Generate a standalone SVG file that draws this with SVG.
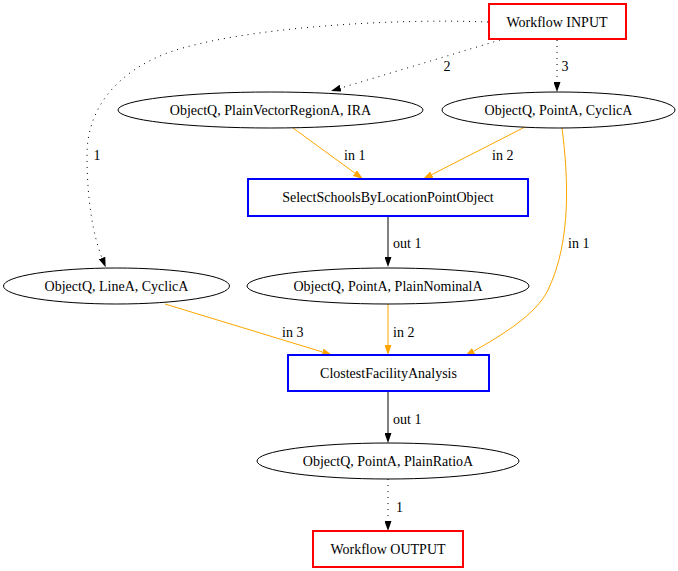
<svg xmlns="http://www.w3.org/2000/svg" width="678" height="571" viewBox="0 0 678 571">
  <style>
    text { font-family: "Liberation Serif", "Times New Roman", serif; font-size: 14px; fill: #000; }
    .lbl { text-anchor: middle; }
    .ell { fill: none; stroke: #000; stroke-width: 1; }
    .io { fill: none; stroke: #ff0000; stroke-width: 2; }
    .op { fill: none; stroke: #0000ff; stroke-width: 2; }
    .e { fill: none; stroke: #000; stroke-width: 1; }
    .dot { stroke-dasharray: 1,5; }
    .or { stroke: #ffa500; }
  </style>
  <defs>
    <marker id="ah" viewBox="0 0 10 7" refX="0" refY="3.5" markerWidth="10" markerHeight="7" markerUnits="userSpaceOnUse" orient="auto">
      <path d="M0,0 L10,3.5 L0,7 Z" fill="#000" stroke="none"/>
    </marker>
    <marker id="aho" viewBox="0 0 10 7" refX="0" refY="3.5" markerWidth="10" markerHeight="7" markerUnits="userSpaceOnUse" orient="auto">
      <path d="M0,0 L10,3.5 L0,7 Z" fill="#ffa500" stroke="none"/>
    </marker>
  </defs>

  <!-- edges -->
  <g id="edges">
    <path class="e dot" d="M557,40 L557,82" marker-end="url(#ah)"/>
    <text x="565" y="71" class="lbl">3</text>
    <path class="e dot" d="M500,40 L340.6,88.1" marker-end="url(#ah)"/>
    <text x="447" y="71" class="lbl">2</text>
    <path class="e dot" d="M488,22 C390,18 240,28 170,52 C115,72 87,110 87,155 C87,200 93,235 102,258" marker-end="url(#ah)"/>
    <text x="97" y="160" class="lbl">1</text>

    <path class="e or" d="M293,128 L354.9,173.1" marker-end="url(#aho)"/>
    <text x="344" y="160">in 1</text>
    <path class="e or" d="M525,127 L431.9,174.5" marker-end="url(#aho)"/>
    <text x="492" y="160">in 2</text>

    <path class="e" d="M388,216 L388,257" marker-end="url(#ah)"/>
    <text x="393" y="248">out 1</text>

    <path class="e or" d="M562,128 C568,175 572,240 548,290 C536,315 499.8,336.4 473.7,351.1" marker-end="url(#aho)"/>
    <text x="568" y="248">in 1</text>

    <path class="e or" d="M165,304 L322.5,352" marker-end="url(#aho)"/>
    <text x="282" y="337">in 3</text>
    <path class="e or" d="M388,304 L388,345" marker-end="url(#aho)"/>
    <text x="393" y="337">in 2</text>

    <path class="e" d="M388,391 L388,433" marker-end="url(#ah)"/>
    <text x="393" y="424">out 1</text>

    <path class="e dot" d="M388,479 L388,521" marker-end="url(#ah)"/>
    <text x="396" y="512">1</text>
  </g>

  <!-- nodes -->
  <g id="workflow-input">
    <rect class="io" x="489" y="4" width="137" height="35"/>
    <text x="557" y="27" class="lbl">Workflow INPUT</text>
  </g>
  <g id="objectq-plainvectorregiona-ira">
    <ellipse class="ell" cx="270.5" cy="110" rx="152.5" ry="18"/>
    <text x="270.5" y="115" class="lbl">ObjectQ, PlainVectorRegionA, IRA</text>
  </g>
  <g id="objectq-pointa-cyclica">
    <ellipse class="ell" cx="558.5" cy="110" rx="116.5" ry="18"/>
    <text x="558.5" y="115" class="lbl">ObjectQ, PointA, CyclicA</text>
  </g>
  <g id="select-schools">
    <rect class="op" x="248" y="179" width="280" height="37"/>
    <text x="388" y="202" class="lbl">SelectSchoolsByLocationPointObject</text>
  </g>
  <g id="objectq-linea-cyclica">
    <ellipse class="ell" cx="116.5" cy="286" rx="113" ry="18"/>
    <text x="116.5" y="291" class="lbl">ObjectQ, LineA, CyclicA</text>
  </g>
  <g id="objectq-pointa-plainnominala">
    <ellipse class="ell" cx="388" cy="286" rx="141" ry="18"/>
    <text x="388" y="291" class="lbl">ObjectQ, PointA, PlainNominalA</text>
  </g>
  <g id="closest-facility">
    <rect class="op" x="288" y="355" width="201" height="36"/>
    <text x="388.5" y="378" class="lbl">ClostestFacilityAnalysis</text>
  </g>
  <g id="objectq-pointa-plainratioa">
    <ellipse class="ell" cx="388" cy="461" rx="131" ry="18"/>
    <text x="388" y="466" class="lbl">ObjectQ, PointA, PlainRatioA</text>
  </g>
  <g id="workflow-output">
    <rect class="io" x="313" y="531" width="150" height="36"/>
    <text x="388" y="554" class="lbl">Workflow OUTPUT</text>
  </g>
</svg>
